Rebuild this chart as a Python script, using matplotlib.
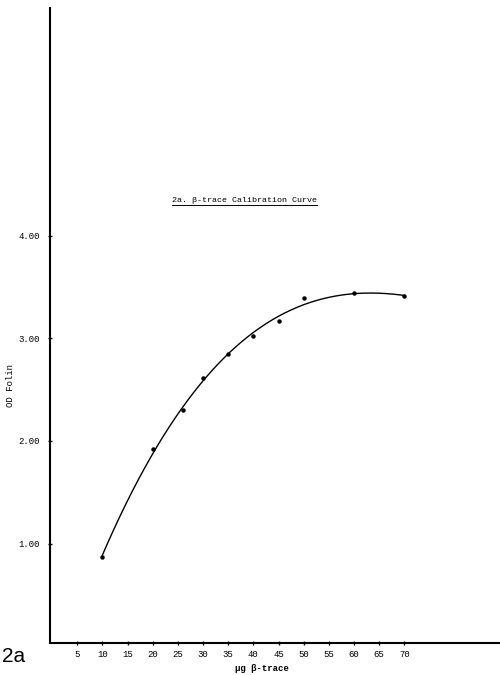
import matplotlib
matplotlib.use("Agg")
import matplotlib.pyplot as plt
from matplotlib.lines import Line2D
import numpy as np

# data
ug_trace = [10, 20, 26, 30, 35, 40, 45, 50, 60, 70]
od_folin = [0.87, 1.92, 2.30, 2.61, 2.85, 3.02, 3.17, 3.39, 3.44, 3.41]
xticks = [5, 10, 15, 20, 25, 30, 35, 40, 45, 50, 55, 60, 65, 70]
yticks = [1.0, 2.0, 3.0, 4.0]

mono = "Liberation Mono"

fig = plt.figure(figsize=(5, 6.75), dpi=100)
ax = fig.add_axes([0.1, 0.0474, 0.9, 0.9407])

# smooth fitted calibration curve
coef = np.polyfit(ug_trace, od_folin, 3)
xs = np.linspace(min(ug_trace), max(ug_trace), 200)
ax.plot(xs, np.polyval(coef, xs), color="black", lw=1.0)
ax.plot(ug_trace, od_folin, "o", color="black", ms=2.2)

ax.set_xlim(-0.4, 89)
ax.set_ylim(0.03, 6.22)
ax.set_xticks(xticks)
ax.set_xticklabels([str(v) for v in xticks], fontfamily=mono, fontsize=6.5)
ax.set_yticks(yticks)
ax.set_yticklabels(["%.2f" % v for v in yticks], fontfamily=mono, fontsize=6.5)
ax.tick_params(direction="inout", length=2.5, width=1, pad=6)
ax.tick_params(axis="x", pad=4)

for s in ["top", "right"]:
    ax.spines[s].set_visible(False)
ax.spines["left"].set_linewidth(1.5)
ax.spines["bottom"].set_linewidth(1.5)

ax.set_xlabel("\u03bcg \u03b2-trace", fontfamily=mono, fontsize=6.5,
              fontweight="bold")
ax.xaxis.set_label_coords(0.471, -0.033)
ax.set_ylabel("OD Folin", fontfamily=mono, fontsize=6.5)
ax.yaxis.set_label_coords(-0.078, 0.406)

title = fig.text(0.488, 0.703, "2a. \u03b2-trace Calibration Curve",
                 fontfamily=mono, fontsize=6, ha="center", va="center")
fig.canvas.draw()
bb = title.get_window_extent().transformed(fig.transFigure.inverted())
fig.add_artist(Line2D([bb.x0, bb.x1], [bb.y0 - 0.002, bb.y0 - 0.002],
                      color="black", lw=0.7))

fig.text(0.004, 0.027, "2a", fontfamily="Liberation Sans", fontsize=15,
         ha="left", va="center")

fig.savefig("out.png", dpi=100)
